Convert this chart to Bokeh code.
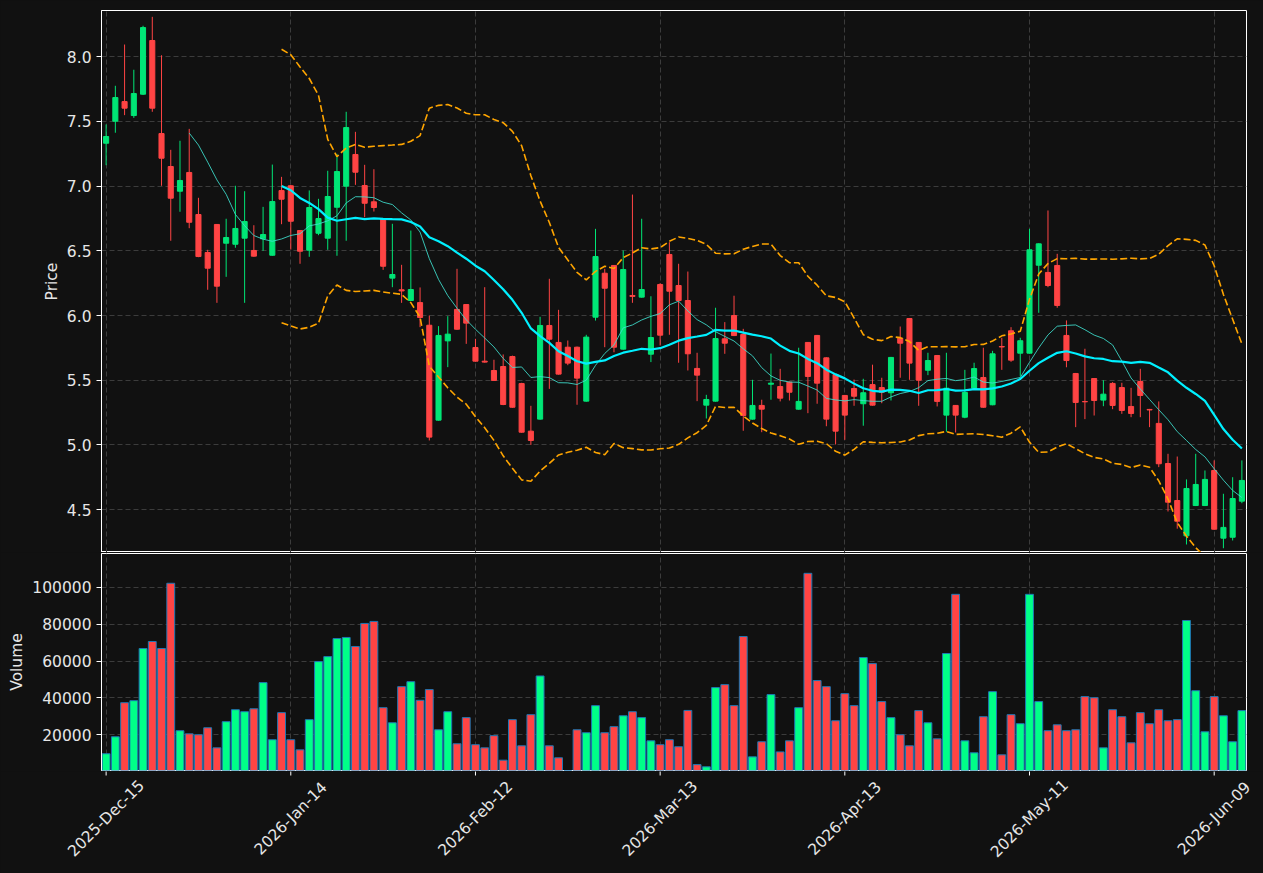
import pandas as pd
from math import pi
from bokeh.plotting import figure
from bokeh.layouts import column
from bokeh.models import ColumnDataSource, FixedTicker, NumeralTickFormatter, Range1d
from bokeh.core.properties import value
from bokeh.embed import file_html
from bokeh.resources import INLINE

# ---------------- data ----------------
tick_positions = [0, 20, 40, 60, 80, 100, 120]
tick_labels = ["2025-Dec-15", "2026-Jan-14", "2026-Feb-12", "2026-Mar-13",
               "2026-Apr-13", "2026-May-11", "2026-Jun-09"]

opens = [7.332, 7.502, 7.654, 7.546, 7.711, 8.126, 7.407, 7.152, 6.961, 7.106,
         6.781, 6.487, 6.704, 6.559, 6.551, 6.598, 6.503, 6.593, 6.466, 6.966,
         7.003, 6.657, 6.505, 6.636, 6.598, 6.837, 7.000, 7.245, 7.005, 6.879,
         6.748, 6.289, 6.199, 6.116, 6.100, 5.925, 5.191, 5.804, 6.047, 6.085,
         5.753, 5.647, 5.575, 5.606, 5.683, 5.474, 5.106, 5.199, 5.923, 5.792,
         5.755, 5.755, 5.338, 5.987, 6.327, 6.387, 5.740, 6.155, 6.142, 5.701,
         6.240, 6.472, 6.232, 6.116, 5.591, 5.307, 5.338, 5.820, 6.000, 5.853,
         5.199, 5.305, 5.469, 5.451, 5.485, 5.276, 5.792, 5.846, 5.673, 5.544,
         5.382, 5.436, 5.318, 5.466, 5.443, 5.403, 5.825, 5.977, 5.792, 5.577,
         5.691, 5.230, 5.305, 5.214, 5.438, 5.521, 5.310, 5.760, 5.882, 5.709,
         5.709, 6.389, 6.333, 6.387, 5.846, 5.552, 5.335, 5.513, 5.346, 5.475,
         5.443, 5.297, 5.490, 5.274, 5.166, 4.856, 4.570, 4.297, 4.531, 4.531,
         4.802, 4.279, 4.286, 4.565]

highs = [7.477, 7.776, 8.095, 7.900, 8.240, 8.309, 8.012, 7.281, 7.351, 7.443,
         6.910, 6.508, 6.704, 6.748, 7.003, 6.961, 6.698, 6.840, 7.167, 7.072,
         7.010, 6.660, 6.967, 6.902, 7.119, 7.250, 7.575, 7.420, 7.165, 7.131,
         6.750, 6.709, 6.392, 6.657, 6.217, 6.000, 5.918, 5.995, 6.361, 6.085,
         5.820, 6.219, 5.658, 5.699, 5.690, 5.480, 5.302, 5.990, 6.284, 6.044,
         5.807, 5.760, 5.851, 6.670, 6.361, 6.390, 6.503, 6.935, 6.748, 6.149,
         6.250, 6.567, 6.400, 6.340, 5.712, 5.387, 6.060, 5.949, 6.153, 5.897,
         5.503, 5.349, 5.706, 5.588, 5.490, 5.751, 5.795, 5.850, 5.677, 5.548,
         5.386, 5.505, 5.511, 5.620, 5.519, 5.680, 5.915, 5.980, 5.795, 5.712,
         5.695, 5.712, 5.308, 5.580, 5.635, 5.751, 5.727, 5.828, 5.910, 5.828,
         6.670, 6.558, 6.812, 6.477, 5.962, 5.556, 5.743, 5.516, 5.500, 5.485,
         5.480, 5.441, 5.588, 5.278, 5.336, 4.931, 4.910, 4.733, 4.931, 4.802,
         4.880, 4.622, 4.750, 4.880]

lows = [7.162, 7.413, 7.549, 7.528, 7.705, 7.575, 7.003, 6.578, 6.802, 6.675,
        6.451, 6.199, 6.098, 6.299, 6.524, 6.098, 6.455, 6.500, 6.462, 6.706,
        6.510, 6.400, 6.454, 6.621, 6.508, 6.462, 6.578, 7.010, 6.760, 6.804,
        6.353, 6.219, 6.098, 6.112, 5.910, 5.034, 5.187, 5.601, 5.890, 5.781,
        5.643, 5.636, 5.494, 5.307, 5.287, 5.094, 5.000, 5.195, 5.433, 5.543,
        5.616, 5.310, 5.334, 5.961, 5.755, 5.716, 5.736, 6.098, 6.138, 5.640,
        5.768, 5.851, 5.635, 5.575, 5.338, 5.204, 5.334, 5.704, 5.841, 5.109,
        5.195, 5.098, 5.349, 5.336, 5.343, 5.272, 5.245, 5.318, 5.144, 5.003,
        5.039, 5.302, 5.148, 5.303, 5.322, 5.343, 5.519, 5.503, 5.302, 5.539,
        5.297, 5.101, 5.096, 5.206, 5.434, 5.287, 5.306, 5.580, 5.642, 5.529,
        5.705, 6.021, 6.219, 6.060, 5.600, 5.137, 5.199, 5.227, 5.299, 5.276,
        5.240, 5.214, 5.214, 5.137, 4.828, 4.485, 4.352, 4.230, 4.527, 4.527,
        4.344, 4.201, 4.261, 4.549]

closes = [7.384, 7.685, 7.603, 7.716, 8.226, 7.603, 7.216, 6.907, 7.044, 6.721,
          6.456, 6.366, 6.227, 6.603, 6.673, 6.727, 6.459, 6.626, 6.881, 6.899,
          6.729, 6.497, 6.835, 6.750, 6.920, 7.113, 7.453, 7.108, 6.868, 6.835,
          6.381, 6.317, 6.190, 6.201, 5.985, 5.060, 5.846, 5.856, 5.894, 5.941,
          5.647, 5.640, 5.498, 5.312, 5.291, 5.098, 5.034, 5.923, 5.817, 5.547,
          5.632, 5.516, 5.833, 6.456, 6.211, 5.755, 6.356, 6.148, 6.201, 5.830,
          5.848, 6.188, 6.116, 5.704, 5.539, 5.351, 5.822, 5.786, 5.845, 5.227,
          5.305, 5.276, 5.477, 5.361, 5.407, 5.336, 5.529, 5.477, 5.199, 5.106,
          5.230, 5.376, 5.403, 5.307, 5.407, 5.676, 5.786, 5.632, 5.500, 5.652,
          5.336, 5.438, 5.230, 5.405, 5.590, 5.291, 5.704, 5.757, 5.655, 5.805,
          6.508, 6.554, 6.232, 6.078, 5.652, 5.328, 5.333, 5.343, 5.392, 5.305,
          5.266, 5.243, 5.382, 5.270, 4.854, 4.557, 4.410, 4.663, 4.694, 4.733,
          4.348, 4.362, 4.585, 4.725]

volumes = [9700, 18900, 37400, 38500, 66800, 70600, 66800, 102200, 22200, 20500,
           20000, 23800, 12900, 27100, 33600, 32500, 34100, 48300, 17300, 32000,
           17300, 11800, 28200, 59700, 62400, 72200, 72800, 67900, 80400, 81500,
           34700, 26500, 46100, 48800, 38700, 44500, 22700, 32500, 15100, 29300,
           14600, 12900, 19500, 6200, 28200, 14000, 30900, 51900, 14000, 7500,
           600, 22700, 21100, 35800, 21100, 24400, 30300, 32500, 29300, 16700,
           14600, 17300, 13500, 33200, 3800, 2600, 45600, 47200, 35800, 73300,
           8000, 16200, 41800, 10700, 16700, 34700, 107600, 49400, 46100, 27600,
           42300, 35800, 61900, 58600, 38000, 29300, 20000, 14000, 33100, 26500,
           17800, 64100, 96200, 16700, 10200, 29800, 43400, 9100, 30900, 26000,
           96200, 38000, 22200, 25400, 22200, 22700, 40700, 40100, 12900, 33600,
           29800, 15600, 32000, 26000, 33600, 27600, 28200, 82000, 43900, 21600,
           40700, 30300, 16200, 33100]

# ---------------- derived series ----------------
UP, DOWN = "#00e676", "#ff4444"
VUP, VDOWN = "#00ff88", "#ff4444"
df = pd.DataFrame(dict(o=opens, h=highs, l=lows, c=closes, v=volumes))
df["x"] = range(len(df))
df["top"] = df[["o", "c"]].max(axis=1)
df["bot"] = df[["o", "c"]].min(axis=1)
up = df["c"] >= df["o"]
df["col"] = [UP if u else DOWN for u in up]
df["vcol"] = [VUP if u else VDOWN for u in up]
ma10 = df["c"].rolling(10).mean()
ma20 = df["c"].rolling(20).mean()
sd20 = df["c"].rolling(20).std(ddof=0)
df["ma10"] = ma10
df["ma20"] = ma20
df["bbu"] = ma20 + 2 * sd20
df["bbl"] = ma20 - 2 * sd20
src = ColumnDataSource(df)
srcl = ColumnDataSource(df.dropna(subset=["ma10"]))
srcb = ColumnDataSource(df.dropna(subset=["ma20"]))

BG = "#111111"
TXT = "#e6e6e6"
FONT = "DejaVu Sans"
FS = "15.5px"
GRID = "#3c3c3c"

W = 1263
LEFT, RIGHT = 101, 17


def style(p):
    p.background_fill_color = BG
    p.border_fill_color = BG
    p.outline_line_color = "white"
    p.outline_line_width = 1
    for ax in p.axis:
        ax.axis_line_color = "white"
        ax.major_tick_line_color = "white"
        ax.major_tick_out = 5
        ax.major_tick_in = 0
        ax.minor_tick_line_color = None
        ax.major_label_text_color = TXT
        ax.major_label_text_font = FONT
        ax.major_label_text_font_size = FS
        ax.axis_label_text_color = TXT
        ax.axis_label_text_font = FONT
        ax.axis_label_text_font_size = FS
        ax.axis_label_text_font_style = "normal"
    for g in p.grid:
        g.grid_line_color = GRID
        g.grid_line_dash = "5 3"
        g.grid_line_width = 1


n = len(df)
xr = Range1d(-0.5, n - 0.5)
price_ticks = [4.5, 5.0, 5.5, 6.0, 6.5, 7.0, 7.5, 8.0]
vol_ticks = [20000, 40000, 60000, 80000, 100000]

# ---------------- price panel ----------------
p1 = figure(width=W, height=552, x_range=xr, y_range=Range1d(4.168, 8.358),
            output_backend="svg", toolbar_location=None, x_axis_location=None,
            min_border_left=LEFT, min_border_right=RIGHT, min_border_top=10,
            min_border_bottom=0)
p1.yaxis.axis_label = "Price"
p1.yaxis.axis_label_standoff = 3
p1.yaxis.ticker = FixedTicker(ticks=price_ticks)
p1.yaxis.formatter = NumeralTickFormatter(format="0.0")
p1.xgrid.ticker = FixedTicker(ticks=tick_positions)
p1.ygrid.ticker = FixedTicker(ticks=price_ticks)
style(p1)

p1.segment(x0="x", y0="l", x1="x", y1="h", color="col", line_width=1, source=src)
p1.vbar(x="x", top="top", bottom="bot", width=0.55, fill_color="col",
        line_color="col", line_width=1, source=src)
p1.line(x="x", y="ma10", color="#40e0d0", line_width=1, alpha=0.85, source=srcl)
p1.line(x="x", y="ma20", color="#00f0ff", line_width=2.2, source=srcb)
p1.line(x="x", y="bbu", color="#ffa500", line_width=1.6, line_dash="7 3", source=srcb)
p1.line(x="x", y="bbl", color="#ffa500", line_width=1.6, line_dash="7 3", source=srcb)

# ---------------- volume panel ----------------
vmin = min(volumes)
vmax = max(volumes)
H2 = 219
p2 = figure(width=W, height=H2, x_range=xr, y_range=Range1d(vmin, vmax * 1.1),
            output_backend="svg", toolbar_location=None, x_axis_location=None,
            min_border_left=LEFT, min_border_right=RIGHT, min_border_top=1,
            min_border_bottom=1)
p2.yaxis.axis_label = "Volume"
p2.yaxis.axis_label_standoff = 3
p2.yaxis.ticker = FixedTicker(ticks=vol_ticks)
p2.yaxis.formatter = NumeralTickFormatter(format="0")
p2.xgrid.ticker = FixedTicker(ticks=tick_positions)
p2.ygrid.ticker = FixedTicker(ticks=vol_ticks)
style(p2)

p2.vbar(x="x", top="v", bottom=vmin, width=0.85, fill_color="vcol",
        line_color="#1f77b4", line_width=1, source=src)

# ---------------- date axis strip: tick marks + centred rotated labels ----------------
unit = (W - LEFT - RIGHT) / n
H3 = 873 - 552 - H2
p3 = figure(width=W, height=H3,
            x_range=Range1d(-0.5 - LEFT / unit, n - 0.5 + RIGHT / unit),
            y_range=Range1d(-H3, 0),
            output_backend="svg", toolbar_location=None,
            x_axis_location=None, y_axis_location=None,
            min_border_left=0, min_border_right=0, min_border_top=0,
            min_border_bottom=0)
p3.background_fill_color = BG
p3.border_fill_color = BG
p3.outline_line_color = None
p3.grid.visible = False
tick_src = ColumnDataSource(dict(x=tick_positions, y0=[0.5] * len(tick_positions),
                                 y1=[-4] * len(tick_positions)))
p3.segment(x0="x", y0="y0", x1="x", y1="y1", line_color="white", line_width=1,
           source=tick_src)
lab_src = ColumnDataSource(dict(x=tick_positions, y=[-47] * len(tick_positions),
                                text=tick_labels))
p3.text(x="x", y="y", text="text", source=lab_src, angle=pi / 4,
        text_align="center", text_baseline="middle", text_color=TXT,
        text_font=value(FONT), text_font_size=value(FS))

layout = column(p1, p2, spacing=0)
layout.styles = {"background-color": BG}

html = file_html([layout, p3], INLINE)
html = html.replace("<body>", '<body style="margin:0;background:#111111;">')
open("out.html", "w").write(html)
